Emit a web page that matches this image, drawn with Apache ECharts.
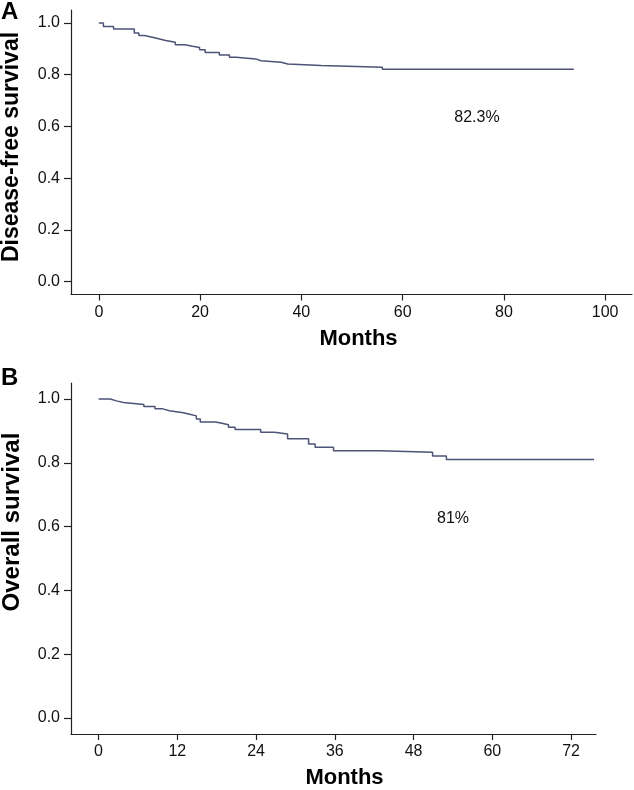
<!DOCTYPE html>
<html>
<head>
<meta charset="utf-8">
<script src="https://cdn.jsdelivr.net/npm/echarts@6/dist/echarts.min.js"></script>
<style>
html,body{margin:0;padding:0;background:#fff;}
#chart{width:634px;height:790px;}
</style>
</head>
<body>
<div id="chart"></div>
<script>
// Panel A: disease-free survival (Kaplan-Meier steps)
var dfsMonths   = [0, 0.9, 2.9, 7.0, 7.9, 9.0, 10.8, 12.0, 13.2, 15.1, 17.0, 18.5, 19.9, 21.0, 23.8, 25.8, 27.1, 31.0, 32.0, 36.0, 37.3, 43.9, 56.0, 93.8];
var dfsSurvival = [1.0, 0.986, 0.977, 0.961, 0.951, 0.944, 0.938, 0.932, 0.925, 0.916, 0.910, 0.905, 0.896, 0.886, 0.876, 0.867, 0.861, 0.854, 0.848, 0.841, 0.835, 0.829, 0.821, 0.821];
// Panel B: overall survival
var osMonths   = [0, 1.8, 2.7, 3.8, 6.9, 8.6, 9.8, 10.8, 12.9, 13.9, 14.9, 15.5, 17.8, 18.8, 19.8, 20.8, 24.7, 26.8, 28.8, 32.0, 33.0, 35.8, 42.8, 50.9, 53.0, 75.5];
var osSurvival = [1.0, 0.994, 0.989, 0.983, 0.976, 0.969, 0.963, 0.957, 0.952, 0.947, 0.937, 0.928, 0.924, 0.919, 0.911, 0.904, 0.896, 0.890, 0.875, 0.859, 0.849, 0.838, 0.833, 0.821, 0.810, 0.810];

var xTicksA = [0, 20, 40, 60, 80, 100];
var xTicksB = [0, 12, 24, 36, 48, 60, 72];
var yTicks  = [0.0, 0.2, 0.4, 0.6, 0.8, 1.0];

var panelLabels = ['A', 'B'];
var yNames = ['Disease-free survival', 'Overall survival'];
var xName = 'Months';
var annotations = ['82.3%', '81%'];

function pairs(xs, ys){ return xs.map(function(x,i){ return [x, ys[i]]; }); }

var FONT = '"Liberation Sans", Arial, sans-serif';
var lineColor = '#4e5378';
var axisColor = '#222';

function xAxisCfg(gridIndex, min, max, ticks, shift){
  return {
    type:'value', gridIndex:gridIndex, min:min, max:max,
    name:xName, nameLocation:'middle', nameGap:33,
    nameTextStyle:{fontFamily:FONT, fontSize:22, fontWeight:'bold', color:'#000', padding:[0,0,0,shift]},
    axisLine:{show:true, onZero:false, lineStyle:{color:axisColor, width:1.2}},
    axisTick:{show:true, length:6, lineStyle:{color:axisColor, width:1.2}, customValues:ticks},
    axisLabel:{fontFamily:FONT, fontSize:16, color:'#111', margin:10, customValues:ticks},
    splitLine:{show:false}
  };
}
function yAxisCfg(gridIndex){
  return {
    type:'value', gridIndex:gridIndex, min:-0.05, max:1.05,
    axisLine:{show:true, onZero:false, lineStyle:{color:axisColor, width:1.2}},
    axisTick:{show:true, length:7, lineStyle:{color:axisColor, width:1.2}, customValues:yTicks},
    axisLabel:{fontFamily:FONT, fontSize:16, color:'#111', margin:11, customValues:yTicks,
      formatter:function(v){ return v.toFixed(1); }},
    splitLine:{show:false}
  };
}

var chart = echarts.init(document.getElementById('chart'), null, {renderer:'canvas'});
chart.setOption({
  backgroundColor:'#fff',
  animation:false,
  grid:[
    {left:71, top:10, width:561, height:284.5},
    {left:71, top:383, width:525, height:354}
  ],
  xAxis:[ xAxisCfg(0, -5.5, 105.3, xTicksA, 14), xAxisCfg(1, -4.2, 75.8, xTicksB, 22) ],
  yAxis:[ yAxisCfg(0), yAxisCfg(1) ],
  series:[
    {type:'line', xAxisIndex:0, yAxisIndex:0, step:'end', showSymbol:false, symbol:'none',
     lineStyle:{color:lineColor, width:1.5}, data:pairs(dfsMonths, dfsSurvival)},
    {type:'line', xAxisIndex:1, yAxisIndex:1, step:'end', showSymbol:false, symbol:'none',
     lineStyle:{color:lineColor, width:1.5}, data:pairs(osMonths, osSurvival)}
  ],
  graphic:[
    {type:'text', left:1, top:0, style:{text:panelLabels[0], font:'bold 24px '+FONT, fill:'#000'}},
    {type:'text', left:1, top:366, style:{text:panelLabels[1], font:'bold 24px '+FONT, fill:'#000'}},
    {type:'text', x:12, y:147, rotation:Math.PI/2,
     style:{text:yNames[0], font:'bold 23px '+FONT, fill:'#000', align:'center', verticalAlign:'middle'}},
    {type:'text', x:12, y:522, rotation:Math.PI/2,
     style:{text:yNames[1], font:'bold 24px '+FONT, fill:'#000', align:'center', verticalAlign:'middle'}},
    {type:'text', x:477, y:118, style:{text:annotations[0], font:'16px '+FONT, fill:'#111', align:'center', verticalAlign:'middle'}},
    {type:'text', x:453, y:519, style:{text:annotations[1], font:'16px '+FONT, fill:'#111', align:'center', verticalAlign:'middle'}}
  ]
});
</script>
</body>
</html>
